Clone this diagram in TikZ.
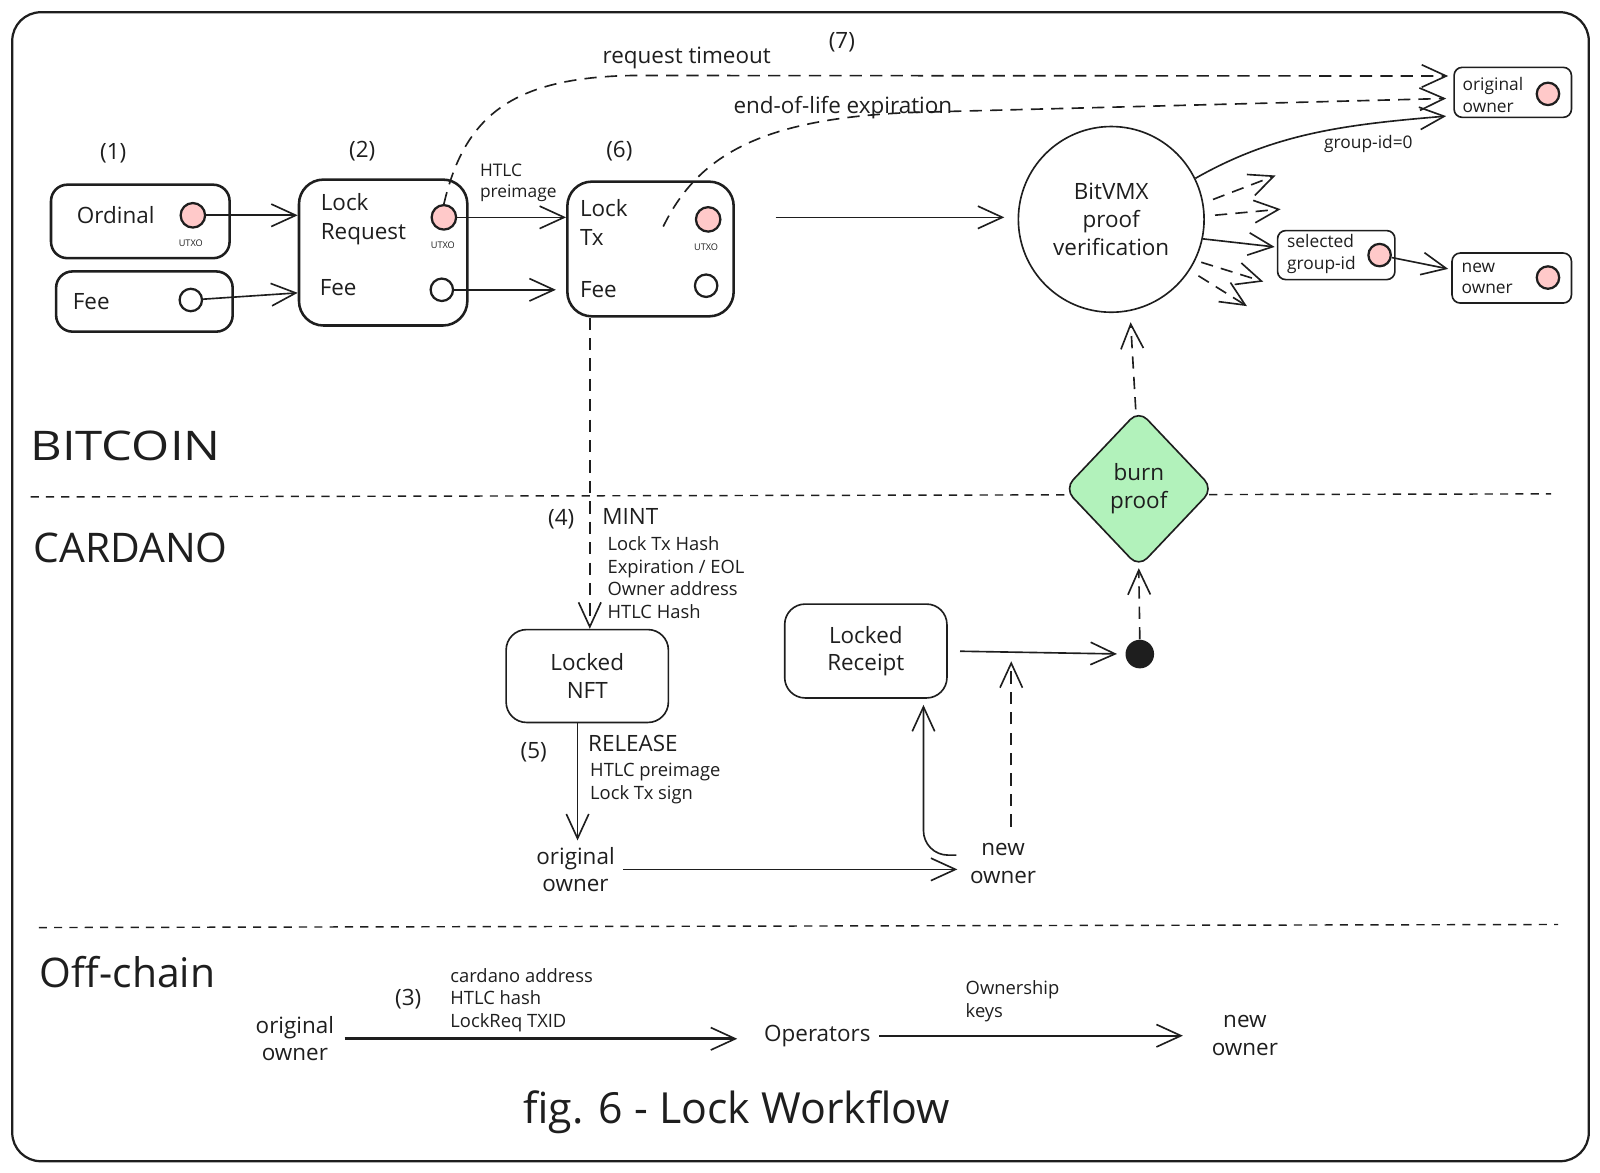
\documentclass[tikz,border=0pt]{standalone}
\usepackage{fontspec}
\setmainfont{Open Sans}
\usetikzlibrary{arrows.meta,shapes.geometric,calc}
\definecolor{inkc}{HTML}{1E1E1E}
\definecolor{pinkf}{HTML}{FFC9C9}
\definecolor{greenf}{HTML}{B2F2BB}
\begin{document}
\begin{tikzpicture}[x=0.5pt,y=-0.5pt,
  box/.style={draw=inkc, line width=1.25pt, rounded corners=8pt, inner sep=0pt},
  thinbox/.style={draw=inkc, line width=0.8pt, rounded corners=10pt, inner sep=0pt, align=center, text=inkc, font=\fontsize{11}{13.5}\selectfont},
  smallbox/.style={draw=inkc, line width=0.8pt, rounded corners=4pt, inner sep=0pt},
  dotp/.style={circle, draw=inkc, line width=1.1pt, fill=pinkf, minimum size=12pt, inner sep=0pt},
  dots/.style={circle, draw=inkc, line width=1.1pt, fill=pinkf, minimum size=11pt, inner sep=0pt},
  dotw/.style={circle, draw=inkc, line width=1.1pt, fill=white, minimum size=11pt, inner sep=0pt},
  arr/.style={draw=inkc, line width=0.8pt, -{Straight Barb[length=12pt,width=11pt,line width=0.8pt]}},
  darr/.style={arr, dash pattern=on 6pt off 4pt},
  txt/.style={text=inkc, inner sep=0pt, align=left, font=\fontsize{11}{14}\selectfont},
  ctxt/.style={text=inkc, inner sep=0pt, align=center, font=\fontsize{11}{13.5}\selectfont},
  stxt/.style={text=inkc, inner sep=0pt, align=left, font=\fontsize{8.5}{10.5}\selectfont},
  mtxt/.style={text=inkc, inner sep=0pt, align=left, font=\fontsize{9}{11}\selectfont},
  utxo/.style={text=inkc, inner sep=0pt, font=\fontsize{4.5}{5}\selectfont},
  head/.style={text=inkc, inner sep=0pt, font=\fontsize{20}{24}\selectfont},
  divider/.style={draw=inkc, line width=0.7pt, dash pattern=on 4pt off 3.5pt}
]
\useasboundingbox (0,0) rectangle (1568,1149.5);
\draw[draw=inkc, line width=1.1pt, rounded corners=14pt] (12,12) rectangle (1557,1138);

% dividers
\draw[divider] (30,487) -- (1520,484);
\draw[divider] (38,909) -- (1527,906);

% headings
\node[head] (hbtc) at (123,437) {\scalebox{1.2}[1]{BITCOIN}};
\node[head] (hcar) at (128,537) {CARDANO};
\node[head] (hoff) at (125,953) {Off-chain};

% step numbers
\node[txt] (n1) at (111,150) {(1)};
\node[txt] (n2) at (355,148) {(2)};
\node[txt] (n6) at (607,148) {(6)};
\node[txt] (n7) at (825,41) {(7)};

% Ordinal
\node[box, minimum width=87.5pt, minimum height=36pt] (ord) at (137.5,217) {};
\node[txt, anchor=west] (ordt) at (75,211) {Ordinal};
\node[dotp] (ordc) at (189,211) {};
\node[utxo] (ordu) at (187,238) {UTXO};

% Fee
\node[box, minimum width=86.5pt, minimum height=29.5pt] (fee1) at (141.5,295.5) {};
\node[txt, anchor=west] (fee1t) at (71,296) {Fee};
\node[dotw] (fee1c) at (187,294) {};

% Lock Request
\node[box, rounded corners=12pt, minimum width=82.5pt, minimum height=71.5pt] (lr) at (375.5,247.5) {};
\node[txt, anchor=west] (lrt) at (314,215) {Lock\\Request};
\node[dotp] (lrc) at (435,213) {};
\node[utxo] (lru) at (434,240) {UTXO};
\node[txt, anchor=west] (lrft) at (313,282) {Fee};
\node[dotw] (lrf) at (433,284) {};

% Lock Tx
\node[box, rounded corners=12pt, minimum width=81.5pt, minimum height=66pt] (lt) at (637.5,244) {};
\node[txt, anchor=west] (ltt) at (568,218) {Lock\\Tx};
\node[dotp] (ltc) at (694,215) {};
\node[utxo] (ltu) at (692,242) {UTXO};
\node[txt, anchor=west] (ltft) at (568,284) {Fee};
\node[dotw] (ltf) at (692,280) {};

% BitVMX
\node[circle, draw=inkc, line width=0.8pt, minimum size=91pt, inner sep=0pt, align=center, text=inkc, font=\fontsize{11}{13.5}\selectfont] (bv) at (1089,215) {BitVMX\\proof\\verification};

% right boxes
\node[smallbox, minimum width=57.5pt, minimum height=24.5pt] (oo) at (1482.5,90.5) {};
\node[stxt, anchor=west] (oot) at (1433,93) {original\\owner};
\node[dots] (ooc) at (1517,92) {};

\node[smallbox, minimum width=57.5pt, minimum height=24pt] (sel) at (1309.5,250) {};
\node[stxt, anchor=west] (selt) at (1261,249) {selected\\group-id};
\node[dots] (selc) at (1352,250) {};

\node[smallbox, minimum width=58.5pt, minimum height=24.5pt] (no) at (1481.5,272.5) {};
\node[stxt, anchor=west] (not) at (1432,273) {new\\owner};
\node[dots] (noc) at (1517,272) {};

% top arrows
\draw[arr] (ordc) -- (ordc -| lr.west);
\draw[arr] (fee1c) -- ($(lr.west |- fee1c)+(0,-7)$);
\draw[arr] (lrc) -- (lrc -| lt.west);
\draw[arr] (lrf) -- ([xshift=-5pt]lrf -| lt.west);
\node[stxt, anchor=west] (htlc) at (470,179) {HTLC\\preimage};
\coordinate (ltout) at (760,213);
\draw[arr] (ltout) -- ([xshift=-6.5pt]bv.west |- ltout);

\draw[arr] (bv.26) .. controls (1250,130) and (1320,122) .. ([xshift=-3.5pt,yshift=1pt]oo.south west);
\node[stxt] (gid) at (1341,141) {group-id=0};
\draw[arr] (bv.-12) -- ($(sel.west)+(-2,-8)$);
\draw[arr] (selc) -- ($(no.west)+(-3,-9)$);

\coordinate (s1) at (1250,172);
\coordinate (s2) at (1255,205);
\coordinate (s3) at (1238,276);
\coordinate (s4) at (1222,300);
\draw[darr, shorten <=5pt] (bv.10) -- (s1);
\draw[darr, shorten <=5pt] (bv.2) -- (s2);
\draw[darr, shorten <=3pt] (bv.-26) -- (s3);
\draw[darr, shorten <=5pt] (bv.-33) -- (s4);

% dashed curves (7)
\draw[darr] (lrc.north) .. controls (455,115) and (500,76) .. (620,74) -- ($(oo.west)+(-5,-16)$);
\node[txt, font=\fontsize{11}{13}\selectfont] (rto) at (673,57) {request timeout};
\coordinate (eols) at (650,222);
\draw[darr] (eols) .. controls (685,150) and (750,115) .. (900,110) -- ($(oo.west)+(-7,6)$);
\node[txt, font=\fontsize{11}{13}\selectfont] (eol) at (826,105) {end-of-life expiration};

% Cardano
\node[thinbox, minimum width=79.5pt, minimum height=45.5pt] (nft) at (575.5,662.5) {Locked\\NFT};
\node[thinbox, minimum width=79.5pt, minimum height=46pt] (rc) at (848.5,638) {Locked\\Receipt};
\node[circle, fill=inkc, minimum size=14pt, inner sep=0pt] (dot) at (1117,641) {};

\node[diamond, draw=inkc, fill=greenf, line width=0.8pt, minimum width=73pt, minimum height=77pt, inner sep=0pt, rounded corners=6pt, align=center, text=inkc, font=\fontsize{11}{13.5}\selectfont] (dia) at (1116,479) {burn\\proof};

\draw[darr] ([xshift=-29.75pt]lt.south) -- ([xshift=1.25pt]nft.north);
\node[txt] (n4) at (550,509) {(4)};
\node[txt, anchor=west] (mint) at (590,506) {MINT};
\node[mtxt, anchor=west] (mintl) at (595,566) {Lock Tx Hash\\Expiration / EOL\\Owner address\\HTLC Hash};

\node[ctxt] (orig2) at (564,852) {original\\owner};
\node[ctxt] (nw2) at (983,846) {new\\owner};

\draw[arr, shorten >=3pt] ([xshift=-4.75pt]nft.south) -- ([xshift=-4.75pt]nft.south |- orig2.north);
\node[txt] (n5) at (523,737) {(5)};
\node[txt, anchor=west] (rel) at (576,729) {RELEASE};
\node[mtxt, anchor=west] (rell) at (578,768) {HTLC preimage\\Lock Tx sign};

\draw[arr, shorten <=4pt, shorten >=6pt] (orig2.east) -- (orig2.east -| nw2.west);
\draw[arr, rounded corners=12pt, shorten >=3pt] ([shift={(-6.5pt,4pt)}]nw2.west) -| ([xshift=28.25pt]rc.south);
\coordinate (jn) at (991,648);
\draw[darr, shorten <=8pt] ([xshift=4pt]nw2.north) -- (jn);
\draw[arr, shorten <=6pt, shorten >=4pt] (rc.east) -- (dot.west);
\draw[darr] (dot.north) -- (dia.south);
\draw[darr] ([xshift=-1.5pt]dia.north) -- ($(bv.south)+(19,9)$);

% Off-chain
\node[ctxt] (orig3) at (289,1018) {original\\owner};
\node[ctxt] (ops) at (801,1015) {Operators};
\node[ctxt] (nw3) at (1220,1015) {new\\owner};
\draw[arr, line width=1.3pt, shorten <=5pt, shorten >=13pt] (orig3.east) -- (orig3.east -| ops.west);
\node[txt] (n3) at (400,979) {(3)};
\node[mtxt, anchor=west] (offl) at (441,980) {cardano address\\HTLC hash\\LockReq TXID};
\draw[arr, shorten <=4pt, shorten >=14pt] (ops.east) -- (ops.east -| nw3.west);
\node[mtxt, anchor=west] (own) at (946,981) {Ownership\\keys};

% caption
\node[head, font=\fontsize{21}{26}\selectfont] (cap) at (722,1090) {fig. 6 - Lock Workflow};
\end{tikzpicture}
\end{document}
